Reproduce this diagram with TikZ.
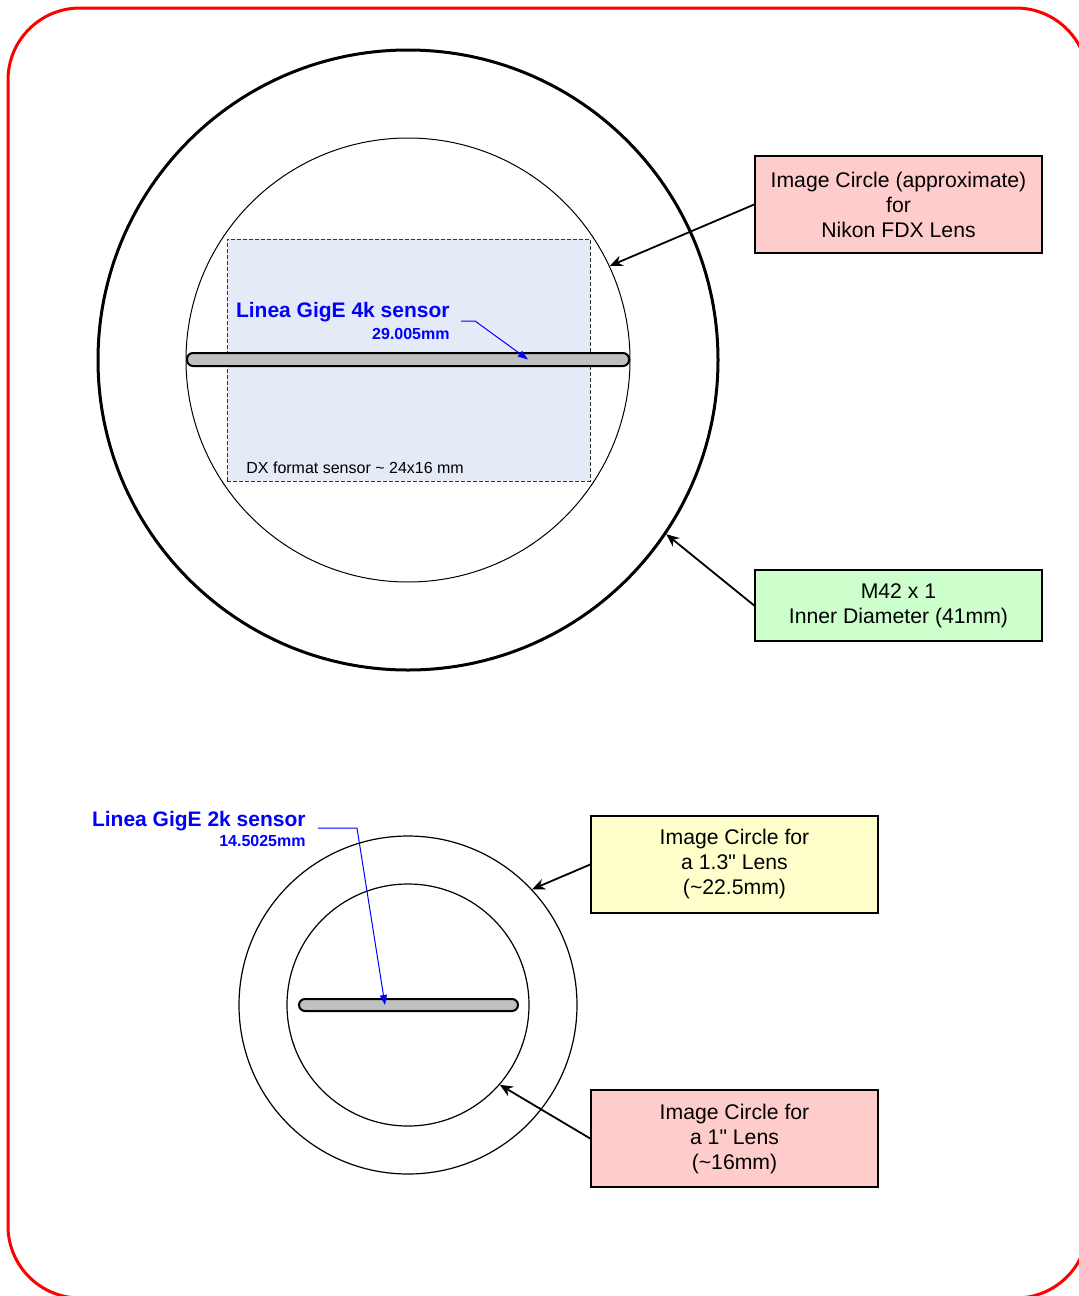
\documentclass[tikz,border=0pt]{standalone}
\usepackage{fontspec}
\setmainfont{Liberation Sans}[Ligatures=TeXOff]
\usepackage{xcolor}
\usetikzlibrary{arrows.meta}

\definecolor{dxfill}{HTML}{E4EBF6}
\definecolor{boxpink}{HTML}{FFCCCC}
\definecolor{boxgreen}{HTML}{CCFFCC}
\definecolor{boxyellow}{HTML}{FFFFCC}
\definecolor{barfill}{HTML}{C0C0C0}

\begin{document}
\begin{tikzpicture}[
    x=0.5pt, y=-0.5pt,
    ring/.style={circle, draw=black, inner sep=0pt, minimum size=#1},
    sensorbar/.style={rectangle, draw=black, line width=1pt, rounded corners=3pt, fill=barfill, inner sep=0pt},
    infobox/.style={rectangle, draw=black, line width=0.8pt, fill=#1, minimum width=143.5pt, minimum height=48.5pt, inner sep=0pt, align=center, font=\fontsize{10.6}{12.5}\selectfont},
    title/.style={font=\fontsize{10.5}{12.5}\selectfont\bfseries, text=blue, anchor=base east, inner sep=0pt},
    sublbl/.style={font=\fontsize{8}{9.6}\selectfont\bfseries, text=blue, anchor=base east, inner sep=0pt},
    arrow/.style={-{Stealth[length=6.5pt, width=5.5pt]}, black, line width=0.9pt},
    leader/.style={-{Triangle[length=5pt, width=3.5pt]}, blue, line width=0.5pt}
]
\useasboundingbox (0,0) rectangle (1079,1296);

% ---- Outer frame ----
\draw[red, line width=1.5pt, rounded corners=36pt] (8,8) rectangle (1088,1298);

% ---- Upper group: Nikon mount ----
\node[ring=310pt, line width=1.5pt] (mount) at (408,360) {};
\node[ring=222pt, line width=0.5pt] (fdx) at (408,360) {};
\node[rectangle, draw=black!80, dash pattern=on 2pt off 1pt, line width=0.5pt, fill=dxfill,
      minimum width=181.5pt, minimum height=121pt, inner sep=0pt] (dx) at (408.5,360) {};
\node[font=\fontsize{8}{9.6}\selectfont, anchor=base west, inner sep=0pt] (dxlbl) at (246,473) {DX format sensor \textasciitilde{} 24x16 mm};
\node[sensorbar, minimum width=221pt, minimum height=6.5pt] (bar4k) at (408,359.5) {};

\node[title] (lbl4k) at (450,317) {Linea GigE 4k sensor};
\node[sublbl] (len4k) at (450,339) {29.005mm};

% ---- Upper callouts ----
\node[infobox=boxpink] (fdxbox) at (898.5,204.5) {Image Circle (approximate)\\for\\Nikon FDX Lens};
\node[infobox=boxgreen, minimum height=35.5pt] (m42box) at (898.5,605.5) {M42 x 1\\Inner Diameter (41mm)};

% ---- Lower group: small lenses ----
\node[ring=169pt, line width=0.6pt] (lens13) at (408,1005) {};
\node[ring=121pt, line width=0.6pt] (lens1) at (408,1005) {};
\node[sensorbar, minimum width=109.5pt, minimum height=6pt] (bar2k) at (408.5,1005) {};

\node[title] (lbl2k) at (306,826) {Linea GigE 2k sensor};
\node[sublbl] (len2k) at (306,846) {14.5025mm};

% ---- Lower callouts ----
\node[infobox=boxyellow] (lens13box) at (734.5,864.5) {Image Circle for\\a 1.3" Lens\\(\textasciitilde22.5mm)};
\node[infobox=boxpink] (lens1box) at (734.5,1138.5) {Image Circle for\\a 1" Lens\\(\textasciitilde16mm)};

% ---- Connecting arrows ----
\draw[arrow] (fdxbox.west) -- (fdx.25.6);
\draw[arrow] (m42box.west) -- (mount.-34.3);
\draw[arrow] (lens13box.west) -- (lens13.43.1);
\draw[arrow] (lens1box.west) -- (lens1.-41.7);

% Sensor leaders
\coordinate (lead4k) at (461,321);
\coordinate (tip4k) at ([xshift=60pt]bar4k.center);
\draw[leader] (lead4k) -- ++(14,0) -- (tip4k);

\coordinate (lead2k) at (318,828);
\coordinate (tip2k) at ([xshift=-11.75pt]bar2k.center);
\draw[leader] (lead2k) -- ++(39,0) -- (tip2k);

\end{tikzpicture}
\end{document}
